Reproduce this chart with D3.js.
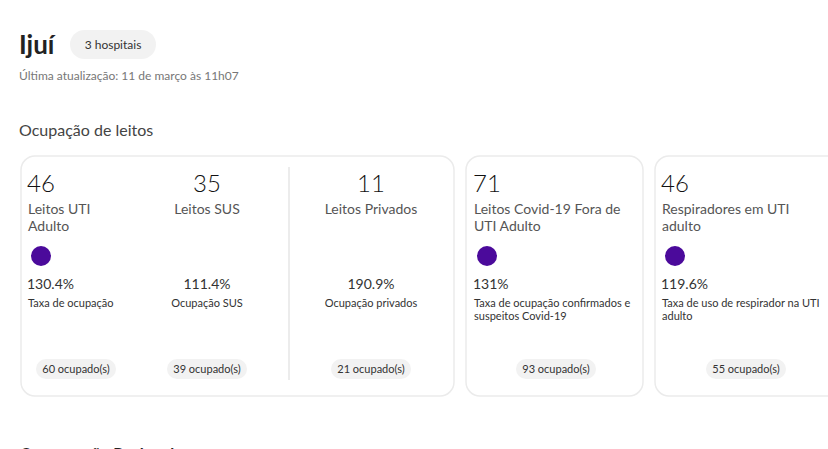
<!DOCTYPE html>
<html>
<head>
<meta charset="utf-8">
<style>
  body { margin: 0; background: #fff; overflow: hidden; }
  svg { font-family: Lato, "Noto Sans", sans-serif; display: block; }
  .card { fill: #fff; stroke: #ebebeb; stroke-width: 1.5; }
  .pill { fill: #f2f2f2; }
</style>
<script src="https://cdn.jsdelivr.net/npm/d3@7"></script>
</head>
<body>
<svg width="828" height="449"></svg>
<script>
var city = "Ijuí";
var hospitals = "3 hospitais";
var updated = "Última atualização: 11 de março às 11h07";
var section = "Ocupação de leitos";

var totals = [46, 35, 11, 71, 46];
var titles = [["Leitos UTI", "Adulto"], ["Leitos SUS"], ["Leitos Privados"],
              ["Leitos Covid-19 Fora de", "UTI Adulto"], ["Respiradores em UTI", "adulto"]];
var rates = [130.4, 111.4, 190.9, 131, 119.6];
var rateLabels = [["Taxa de ocupação"], ["Ocupação SUS"], ["Ocupação privados"],
                  ["Taxa de ocupação confirmados e", "suspeitos Covid-19"],
                  ["Taxa de uso de respirador na UTI", "adulto"]];
var occupied = [60, 39, 21, 93, 55];
var hasDot = [true, false, false, true, true];
var centered = [false, true, true, false, false];

var svg = d3.select("svg");

// column anchors (left edge for left aligned, centre for centred)
var colX = d3.scaleOrdinal().domain([0, 1, 2, 3, 4]).range([27, 207, 371, 473, 661]);
var pillX = d3.scaleOrdinal().domain([0, 1, 2, 3, 4]).range([76, 207, 371, 556, 746]);

// header
svg.append("text").attr("x", 19).attr("y", 54)
   .attr("font-size", 26).attr("font-weight", 700).attr("fill", "#222").text(city);
svg.append("rect").attr("class", "pill").attr("x", 70).attr("y", 30)
   .attr("width", 86).attr("height", 29).attr("rx", 14.5);
svg.append("text").attr("x", 113).attr("y", 49).attr("text-anchor", "middle")
   .attr("font-size", 12).attr("fill", "#333").text(hospitals);
svg.append("text").attr("x", 19).attr("y", 80)
   .attr("font-size", 12).attr("fill", "#777").text(updated);
svg.append("text").attr("x", 19).attr("y", 136)
   .attr("font-size", 16).attr("fill", "#444").text(section);

// cards
var cards = [[21, 454], [466, 643], [655, 850]];
svg.selectAll(".card").data(cards).enter().append("rect")
   .attr("class", "card")
   .attr("x", function(d) { return d[0]; })
   .attr("y", 156)
   .attr("width", function(d) { return d[1] - d[0]; })
   .attr("height", 240)
   .attr("rx", 14);

svg.append("line").attr("x1", 289).attr("x2", 289).attr("y1", 167).attr("y2", 380)
   .attr("stroke", "#e6e6e6").attr("stroke-width", 1.5);

var col = svg.selectAll(".col").data(totals).enter().append("g").attr("class", "col");

function anchor(d, i) { return centered[i] ? "middle" : "start"; }

col.append("text")
   .attr("x", function(d, i) { return colX(i); })
   .attr("y", 192)
   .attr("text-anchor", anchor)
   .attr("font-size", 24).attr("font-weight", 300).attr("fill", "#111")
   .text(function(d) { return d; });

col.append("text")
   .attr("y", 214)
   .attr("text-anchor", anchor)
   .attr("font-size", 14).attr("fill", "#555")
   .each(function(d, i) {
     d3.select(this).selectAll("tspan").data(titles[i]).enter().append("tspan")
       .attr("x", colX(i) + (centered[i] ? 0 : 1))
       .attr("dy", function(t, j) { return j ? 17 : 0; })
       .text(function(t) { return t; });
   });

col.each(function(d, i) {
  if (!hasDot[i]) return;
  d3.select(this).append("circle")
    .attr("cx", colX(i) + 14)
    .attr("cy", 256).attr("r", 10).attr("fill", "#4b0a9b");
});

col.append("text")
   .attr("x", function(d, i) { return colX(i); })
   .attr("y", 289)
   .attr("text-anchor", anchor)
   .attr("font-size", 14).attr("fill", "#333")
   .text(function(d, i) { return rates[i] + "%"; });

col.append("text")
   .attr("y", 307)
   .attr("text-anchor", anchor)
   .attr("font-size", 11).attr("fill", "#333")
   .each(function(d, i) {
     d3.select(this).selectAll("tspan").data(rateLabels[i]).enter().append("tspan")
       .attr("x", colX(i) + (centered[i] ? 0 : 1))
       .attr("dy", function(t, j) { return j ? 13 : 0; })
       .text(function(t) { return t; });
   });

col.append("rect").attr("class", "pill")
   .attr("x", function(d, i) { return pillX(i) - 40; })
   .attr("y", 359).attr("width", 80).attr("height", 20).attr("rx", 10);

col.append("text")
   .attr("x", function(d, i) { return pillX(i); })
   .attr("y", 373)
   .attr("text-anchor", "middle")
   .attr("font-size", 11).attr("fill", "#333")
   .text(function(d, i) { return occupied[i] + " ocupado(s)"; });

// next section heading, cut off by the window
svg.append("text").attr("x", 20).attr("y", 459)
   .attr("font-size", 16).attr("font-weight", 700).attr("fill", "#222")
   .text("Comparação Regional");
</script>
</body>
</html>
